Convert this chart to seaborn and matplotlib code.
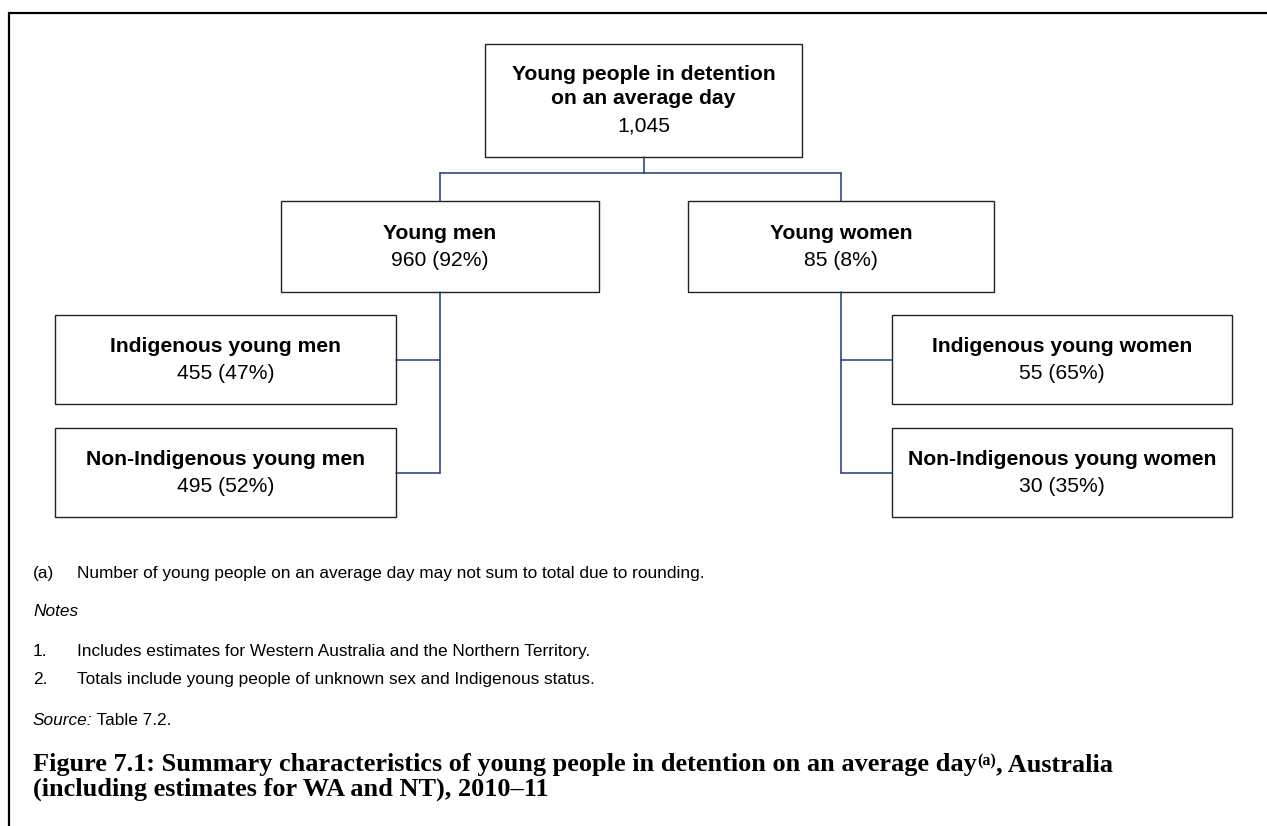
import matplotlib
matplotlib.use("Agg")
import matplotlib.pyplot as plt
from matplotlib.patches import Rectangle
import seaborn as sns

## Data ##
node_labels = ['Young people in detention\non an average day', 'Young men', 'Young women',
               'Indigenous young men', 'Non-Indigenous young men',
               'Indigenous young women', 'Non-Indigenous young women']
node_counts = [1045, 960, 85, 455, 495, 55, 30]
node_pcts = [None, 92, 8, 47, 52, 65, 35]
node_parents = [None, 0, 0, 1, 1, 2, 2]

footnote_a = 'Number of young people on an average day may not sum to total due to rounding.'
notes = ['Includes estimates for Western Australia and the Northern Territory.',
         'Totals include young people of unknown sex and Indigenous status.']
source = 'Table 7.2.'
caption_1 = 'Figure 7.1: Summary characteristics of young people in detention on an average day'
caption_2 = '(including estimates for WA and NT), 2010\u201311'

## Layout (pixel boxes: left, top, right, bottom) ##
boxes = [(485, 44, 802, 157),
         (281, 201, 599, 292),
         (688, 201, 994, 292),
         (55, 315, 396, 404),
         (55, 428, 396, 517),
         (892, 315, 1232, 404),
         (892, 428, 1232, 517)]

sns.set_style('white')
plt.rcParams['font.family'] = ['Liberation Sans', 'DejaVu Sans']
plt.rcParams['text.color'] = 'black'

line_col = '#1f3a78'
box_col = '#222222'

fig = plt.figure(figsize=(12.67, 8.26), dpi=100)
ax = fig.add_axes([0, 0, 1, 1])
ax.set_xlim(0, 1267)
ax.set_ylim(826, 0)
ax.axis('off')

# outer frame (left and top only visible)
ax.plot([9, 9, 1267], [826, 13, 13], color='black', lw=1.6, solid_joinstyle='miter')

# boxes and text
for i, (l, t, r, b) in enumerate(boxes):
    ax.add_patch(Rectangle((l, t), r - l, b - t, fill=False, ec=box_col, lw=1.0))
    cx, cy = (l + r) / 2, (t + b) / 2
    value = f'{node_counts[i]:,}' if node_pcts[i] is None else f'{node_counts[i]:,} ({node_pcts[i]}%)'
    if i == 0:
        ax.text(cx, 86.5, node_labels[i], ha='center', va='center', fontsize=15.2,
                fontweight='bold', linespacing=1.32)
        ax.text(cx, 125.5, value, ha='center', va='center', fontsize=15.2)
    else:
        ax.text(cx, cy - 13, node_labels[i], ha='center', va='center', fontsize=15.2, fontweight='bold')
        ax.text(cx, cy + 14, value, ha='center', va='center', fontsize=15.2)

# connectors: root to the two sexes
root = boxes[0]
rx = (root[0] + root[2]) / 2
kids = [i for i, p in enumerate(node_parents) if p == 0]
kid_x = [(boxes[k][0] + boxes[k][2]) / 2 for k in kids]
mid_y = 173
ax.plot([rx, rx], [root[3], mid_y], color=line_col, lw=1.1)
ax.plot([min(kid_x), max(kid_x)], [mid_y, mid_y], color=line_col, lw=1.1)
for k, kx in zip(kids, kid_x):
    ax.plot([kx, kx], [mid_y, boxes[k][1]], color=line_col, lw=1.1)

# connectors: each sex to Indigenous / non-Indigenous
for p in kids:
    pl, pt, pr, pb = boxes[p]
    px = (pl + pr) / 2
    subs = [i for i, q in enumerate(node_parents) if q == p]
    ys = [(boxes[s][1] + boxes[s][3]) / 2 for s in subs]
    ax.plot([px, px], [pb, max(ys)], color=line_col, lw=1.1)
    for s, sy in zip(subs, ys):
        sl, st, sr, sb = boxes[s]
        edge = sr if sr < px else sl
        ax.plot([edge, px], [sy, sy], color=line_col, lw=1.1)

# footnotes (baseline aligned)
fs = 12.4
ax.text(33, 578, '(a)', va='baseline', fontsize=fs)
ax.text(77, 578, footnote_a, va='baseline', fontsize=fs)
ax.text(33, 616, 'Notes', va='baseline', fontsize=fs, style='italic')
for n, (y, note) in enumerate(zip([656, 684], notes)):
    ax.text(33, y, f'{n + 1}.', va='baseline', fontsize=fs)
    ax.text(77, y, note, va='baseline', fontsize=fs)
src = ax.text(33, 725, 'Source:', va='baseline', fontsize=fs, style='italic')
ax.annotate(' ' + source, xy=(1, 0), xycoords=src, va='bottom', fontsize=fs)

# caption with superscript
cap_font = dict(family=['Liberation Serif', 'DejaVu Serif'], fontweight='bold', color='black')
t1 = ax.text(33, 771, caption_1, va='baseline', fontsize=18.9, **cap_font)
t2 = ax.annotate('(a)', xy=(1, 1.0), xycoords=t1, va='top', ha='left', fontsize=11.5, **cap_font)
ax.annotate(', Australia', xy=(1, 0), xycoords=(t2, t1), va='bottom', ha='left', fontsize=18.9, **cap_font)
ax.text(33, 796, caption_2, va='baseline', fontsize=18.9, **cap_font)

fig.savefig('out.png', dpi=100)
